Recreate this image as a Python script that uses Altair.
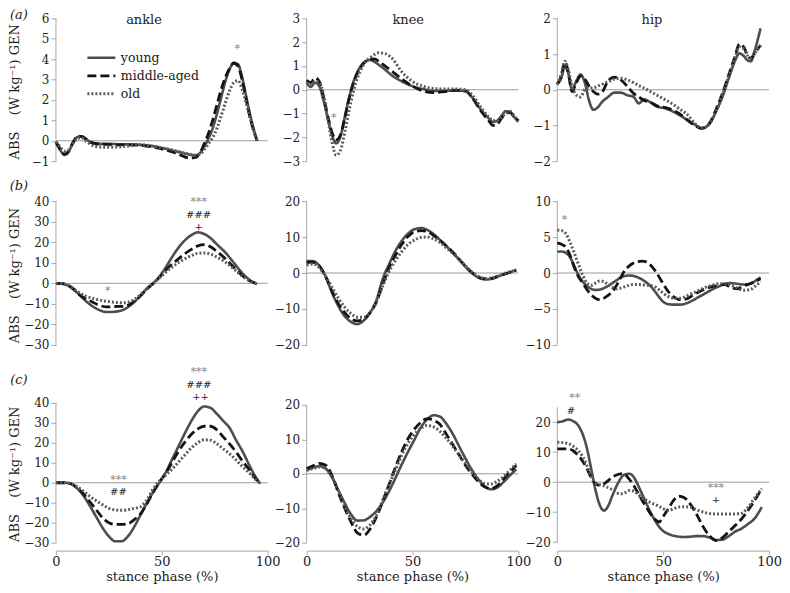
import altair as alt
import pandas as pd

# ---------------- data ----------------
SERIES = ["young", "middle-aged", "old"]
JOINTS = ["ankle", "knee", "hip"]
ROW_LABELS = ["(a)", "(b)", "(c)"]
Y_TITLE = "ABS\u00a0\u00a0\u00a0\u00a0(W kg\u207b\u00b9) GEN"
X_TITLE = "stance phase (%)"
X_TICKS = [0, 50, 100]

# (a) ankle
ankle_a_x = [0, 2, 4, 6, 8, 10, 12, 14, 16, 18, 20, 25, 30, 35, 40, 45, 50, 55, 60, 63, 66, 68, 70, 72, 74, 76, 78, 80, 82, 84, 86, 88, 90, 92, 94, 95]
ankle_a_young = [-0.1, -0.45, -0.7, -0.55, -0.1, 0.18, 0.22, 0.1, -0.05, -0.15, -0.15, -0.15, -0.17, -0.18, -0.2, -0.25, -0.35, -0.48, -0.6, -0.68, -0.72, -0.6, -0.3, 0.1, 0.6, 1.3, 2.1, 2.9, 3.5, 3.82, 3.75, 3.1, 2.1, 1.15, 0.35, 0.0]
ankle_a_middle = [-0.05, -0.4, -0.65, -0.5, -0.1, 0.2, 0.22, 0.1, -0.05, -0.12, -0.15, -0.18, -0.2, -0.2, -0.22, -0.3, -0.4, -0.55, -0.75, -0.85, -0.82, -0.6, -0.15, 0.35, 1.0, 1.75, 2.5, 3.1, 3.55, 3.8, 3.65, 2.95, 1.95, 1.0, 0.3, 0.0]
ankle_a_old = [-0.05, -0.3, -0.5, -0.45, -0.15, 0.1, 0.15, 0.0, -0.15, -0.25, -0.3, -0.32, -0.3, -0.25, -0.2, -0.25, -0.35, -0.45, -0.58, -0.65, -0.7, -0.65, -0.45, -0.15, 0.15, 0.6, 1.2, 1.85, 2.45, 2.85, 2.95, 2.5, 1.8, 1.0, 0.3, 0.0]

# (a) knee
knee_a_x = [0, 2, 4, 6, 8, 10, 12, 14, 16, 18, 20, 22, 24, 26, 28, 30, 32, 34, 37, 40, 45, 50, 55, 60, 65, 70, 75, 78, 82, 86, 88, 90, 92, 94, 96, 98, 100]
knee_a_young = [0.3, 0.12, 0.3, 0.15, -0.45, -1.2, -1.9, -2.25, -1.95, -1.15, -0.35, 0.3, 0.75, 1.05, 1.2, 1.25, 1.18, 1.05, 0.85, 0.62, 0.35, 0.15, 0.03, -0.05, -0.05, -0.03, -0.06, -0.3, -0.8, -1.2, -1.35, -1.3, -1.1, -0.9, -0.95, -1.15, -1.35]
knee_a_middle = [0.4, 0.3, 0.5, 0.35, -0.3, -1.1, -1.8, -2.1, -1.9, -1.2, -0.4, 0.25, 0.7, 1.0, 1.2, 1.28, 1.3, 1.2, 1.0, 0.8, 0.45, 0.15, -0.05, -0.12, -0.08, -0.02, -0.05, -0.3, -0.85, -1.3, -1.5, -1.45, -1.2, -1.0, -0.95, -1.1, -1.3]
knee_a_old = [0.3, 0.2, 0.35, 0.3, -0.2, -1.2, -2.2, -2.75, -2.55, -1.8, -0.9, -0.1, 0.5, 0.9, 1.2, 1.35, 1.48, 1.55, 1.52, 1.35, 0.75, 0.35, 0.15, 0.05, 0.03, 0.03, 0.0, -0.2, -0.7, -1.15, -1.3, -1.3, -1.15, -1.0, -0.9, -1.1, -1.3]

# (a) hip
hip_a_x = [0, 2, 3.5, 5, 7, 9, 11, 13, 15, 17, 19, 21, 24, 27, 30, 33, 36, 38.5, 41, 44, 47, 51, 55, 58, 61.5, 65, 68, 70, 72.5, 75, 78, 80, 82, 84, 86, 88, 90, 91.5, 93, 96]
hip_a_young = [0.17, 0.35, 0.65, 0.5, 0.0, 0.25, 0.43, 0.2, -0.3, -0.56, -0.5, -0.35, -0.2, -0.08, -0.08, -0.15, -0.2, -0.38, -0.27, -0.35, -0.47, -0.52, -0.62, -0.72, -0.85, -0.98, -1.08, -1.05, -0.9, -0.6, -0.2, 0.15, 0.5, 0.82, 1.02, 0.95, 0.82, 0.8, 1.05, 1.72]
hip_a_middle = [0.15, 0.4, 0.78, 0.55, -0.05, 0.2, 0.38, 0.3, 0.1, -0.05, -0.12, -0.08, 0.25, 0.35, 0.28, 0.1, -0.1, -0.2, -0.3, -0.35, -0.45, -0.5, -0.58, -0.68, -0.85, -1.0, -1.08, -1.05, -0.88, -0.55, -0.1, 0.25, 0.6, 0.95, 1.28, 1.2, 0.95, 0.88, 1.0, 1.25]
hip_a_old = [0.15, 0.45, 0.8, 0.6, 0.1, -0.15, -0.2, 0.0, 0.05, 0.05, 0.1, 0.15, 0.22, 0.3, 0.32, 0.28, 0.2, 0.12, 0.05, -0.05, -0.15, -0.28, -0.42, -0.55, -0.7, -0.95, -1.07, -1.05, -0.9, -0.6, -0.15, 0.2, 0.55, 0.9, 1.2, 1.15, 0.95, 0.9, 1.0, 1.25]

# (b) ankle
ankle_b_x = [0, 3, 5, 8, 11, 14, 17, 20, 24, 28, 32, 36, 40, 43, 46, 49, 52, 55, 58, 61, 64, 67, 70, 73, 76, 80, 84, 88, 92, 95]
ankle_b_young = [0, -0.2, -0.8, -2.8, -5.5, -8.5, -11, -12.8, -14, -13.8, -12.8, -10, -6, -2.5, 0, 3.5, 8, 13, 17.5, 21, 23.5, 24.8, 24, 22, 19, 15, 10, 5, 1.2, -0.3]
ankle_b_middle = [0, -0.2, -0.7, -2.5, -5.5, -7.5, -9, -10.5, -11.5, -11.3, -11.2, -9.5, -6, -2.8, 0, 3, 6.5, 9.5, 12, 14.5, 16.5, 18.2, 18.8, 17.8, 15.5, 12, 7.8, 3.8, 1, -0.3]
ankle_b_old = [0, -0.2, -0.7, -2.5, -4.5, -6.2, -7.2, -8, -8.8, -9.3, -9.5, -8.5, -5.5, -2.5, 0, 2.8, 5.5, 8, 10.2, 12, 13.5, 14.6, 14.8, 14.2, 12.8, 10.3, 7, 3.5, 1, -0.3]

# (b) knee
knee_b_x = [0, 3, 6, 9, 12, 15, 18, 21, 24, 27, 30, 33, 36, 39, 42, 45, 48, 51, 54, 57, 60, 63, 66, 70, 74, 78, 82, 85, 88, 91, 94, 97, 99]
knee_b_young = [3.3, 3.3, 2, -1, -5.5, -9.2, -12, -13.6, -14.2, -13.2, -11, -7.5, -1.5, 2.5, 6.2, 9, 11, 12.2, 12.5, 12, 10.8, 9.2, 7.5, 5, 2.4, 0, -1.5, -1.8, -1.5, -0.8, -0.2, 0.4, 0.8]
knee_b_middle = [3, 3, 2, -1, -5, -8.5, -11, -12.7, -13.3, -12.8, -11, -8, -3, 1.5, 5, 8, 10.2, 11.5, 11.8, 11.5, 10.5, 9, 7.5, 5.2, 2.6, 0.2, -1.3, -1.6, -1.4, -0.8, -0.2, 0.4, 0.8]
knee_b_old = [2.3, 2.5, 1.5, -1, -4, -7, -9.5, -11.3, -12.3, -12.3, -11, -8, -3.5, 0.5, 3.5, 6, 8, 9.2, 9.9, 10, 9.5, 8.5, 7, 5, 2.6, 0.3, -1.2, -1.5, -1.3, -0.7, 0, 0.5, 0.9]

# (b) hip
hip_b_x = [0, 2, 4, 6, 8, 10, 12, 14, 16, 18, 20, 22, 24, 26, 28, 30, 32, 34, 36, 38, 40, 42, 44, 46, 48, 50, 52, 55, 58, 61, 64, 67, 70, 73, 76, 79, 82, 85, 88, 91, 94, 96]
hip_b_young = [2.95, 3.0, 2.8, 2.2, 1.0, -0.3, -1.2, -1.8, -2.2, -2.35, -2.3, -2.1, -1.8, -1.4, -1.0, -0.6, -0.4, -0.35, -0.4, -0.6, -0.9, -1.3, -1.8, -2.5, -3.3, -4.0, -4.3, -4.4, -4.4, -4.2, -3.8, -3.3, -2.8, -2.3, -1.9, -1.5, -1.4, -1.5, -1.6, -1.5, -1.0, -0.6]
hip_b_middle = [4.2, 4.0, 3.6, 2.5, 0.8, -0.5, -1.4, -2.3, -3.0, -3.5, -3.7, -3.5, -3.1, -2.6, -1.7, -0.6, 0.4, 1.0, 1.4, 1.6, 1.65, 1.55, 1.1, 0.4, -0.5, -1.5, -2.4, -3.3, -3.7, -3.6, -3.1, -2.6, -2.2, -1.9, -1.7, -1.6, -2.0, -2.2, -1.8, -1.5, -1.1, -0.8]
hip_b_old = [5.95, 5.9, 5.5, 4.3, 2.8, 1.2, -0.3, -1.4, -1.7, -1.4, -1.1, -1.2, -1.6, -2.0, -2.2, -2.1, -1.9, -1.7, -1.6, -1.6, -1.65, -1.7, -1.75, -1.9, -2.3, -2.8, -3.2, -3.5, -3.5, -3.2, -2.8, -2.4, -2.0, -1.7, -1.5, -1.5, -1.7, -2.1, -2.4, -2.3, -1.7, -1.2]

# (c) ankle
ankle_c_x = [0, 4, 7, 10, 13, 16, 19, 22, 25, 28, 31, 34, 37, 40, 43, 46, 49, 52, 55, 58, 61, 64, 67, 70, 73, 76, 79, 82, 85, 88, 91, 94, 96.5]
ankle_c_young = [0, 0, -0.5, -2.8, -6.5, -11.5, -17, -22.5, -26.8, -29.3, -29.3, -26.8, -22, -16, -10, -4.5, 0.3, 5.5, 12, 18.5, 25, 31, 35.8, 38.2, 37.5, 34.5, 31, 27.5, 21.5, 16, 9.5, 3.5, -0.5]
ankle_c_middle = [0, 0, -0.5, -2.5, -5.5, -9.5, -13.5, -17.5, -20, -20.8, -20.8, -20.5, -18.5, -15.5, -10.5, -4.5, 0.5, 5, 10.5, 16, 20.5, 24.3, 27, 28.3, 28.3, 26.5, 23, 19.5, 15.5, 11, 7, 2.5, -0.3]
ankle_c_old = [0, 0, -0.5, -2, -4.2, -6.8, -9, -11, -12.8, -13.6, -13.8, -13.5, -12.8, -12, -8.5, -3, 1, 4, 7, 10.5, 14, 17.5, 20, 21.5, 21.3, 19.5, 17, 14.5, 11.5, 8.2, 5.3, 2, -0.3]

# (c) knee
knee_c_x = [0, 3, 6, 9, 12, 15, 18, 21, 24, 27, 30, 33, 36, 39, 42, 45, 48, 51, 54, 57, 60, 63, 66, 69, 72, 75, 78, 81, 84, 87, 90, 93, 96, 99]
knee_c_young = [1, 1.8, 2.2, 1.5, -1, -4.8, -8.5, -11.8, -13.6, -13.5, -12.5, -10.8, -8.3, -5, -1.2, 2.8, 6.5, 10, 13.5, 15.8, 17, 16.6, 14.5, 11.6, 8, 4.5, 1.2, -1.5, -3.5, -4.5, -4, -2.4, -0.5, 1.3]
knee_c_middle = [1.5, 2.3, 3, 2.5, -0.5, -5.5, -10, -14, -17.2, -17.8, -16, -12.5, -8, -3, 2, 6.5, 10.3, 13, 15, 16, 15.5, 14.3, 11.5, 8.5, 5.5, 2.5, 0, -2.2, -3.8, -4.3, -3.5, -1.5, 0.5, 2.4]
knee_c_old = [1, 1.5, 2, 1.5, -1, -5, -9.5, -13, -15.3, -16, -14.8, -12, -7.5, -3, 1.2, 5.5, 9, 11.5, 13.2, 14, 13.6, 12.3, 10.3, 8, 5.5, 3, 0.5, -1.5, -2.8, -3, -2.2, -0.8, 1, 2.9]

# (c) hip
hip_c_x = [0, 2.5, 5, 7.5, 10, 12, 14, 16, 18, 20, 22, 24, 26, 28, 30, 32, 34, 36, 38, 40, 42, 44, 46, 48, 50, 52.5, 55, 57.5, 60, 63, 66, 69, 72, 75, 78, 81, 84, 87, 90, 93, 96.6]
hip_c_young = [20, 20.3, 20.9, 20.4, 18.8, 16, 11.3, 4.5, -2.5, -7.5, -9.5, -8, -4.5, -1.3, 1.3, 2.6, 2.8, 1.8, -0.8, -3.9, -7, -10, -12.6, -14.8, -16.3, -17.3, -17.9, -18.2, -18.3, -18.2, -18, -18, -18.5, -19.3, -19.2, -18, -16.5, -15.5, -14, -12.3, -8.3]
hip_c_middle = [11.1, 11.1, 11.1, 10.5, 8.8, 7, 4.5, 1.5, -0.5, -1.1, -0.6, 0.5, 1.7, 2.4, 2.8, 2.5, 1, -1, -3.5, -6, -8.3, -10.5, -12.3, -13.3, -11.5, -8.8, -6, -4.7, -5.2, -7.5, -11, -15, -18, -19.5, -18.5, -16.5, -14.5, -12.3, -9.5, -6.3, -2.2]
hip_c_old = [13.3, 13.2, 12.9, 12, 10.5, 8.5, 5.5, 2, -0.2, -0.8, -1.2, -1.8, -2.5, -3.5, -3.9, -3.5, -2.8, -3, -4, -5.2, -6, -6.8, -7.4, -8.1, -8.8, -9.4, -8.8, -8.3, -8.2, -8.4, -9.3, -10, -10.5, -10.6, -10.6, -10.6, -10.6, -10.4, -8.5, -5.5, -2.2]

# significance marks: (x, y, text)
ankle_a_marks = [(85.6, 4.6, "*")]
knee_a_marks = [(12.8, -1.1, "*")]
ankle_b_marks = [(24.5, -3.0, "*"), (67.4, 40.3, "***"), (67.4, 33.3, "###"), (67.4, 27.4, "+")]
hip_b_marks = [(3.4, 7.7, "*")]
ankle_c_marks = [(29.5, 2.5, "***"), (29.5, -4.7, "##"), (67.5, 56.3, "***"), (67.5, 49.0, "###"), (68.3, 43.1, "++")]
hip_c_marks = [(8.2, 28.6, "**"), (6.4, 23.9, "#"), (74.9, -1.2, "***"), (74.9, -5.8, "+")]

# joint headings (x, y) and row labels (x, y)
heading_pos = [(41.6, 5.9), (48.0, 2.93), (44.7, 1.95)]
row_label_pos = [(-17.5, 6.17), (-17.5, 47.3), (-17.5, 51.5)]

# ---------------- style ----------------
FONT = "DejaVu Serif"
TEXT = "#222222"
AXIS_GREY = "#a9a9a9"
ZERO_GREY = "#9a9a9a"
STAR_GREY = "#858585"
LINE_COLORS = ["#4d4d4d", "#141414", "#5c5c5c"]
LINE_DASHES = [[1, 0], [9, 4], [2, 2]]
LINE_WIDTHS = [2.6, 3.0, 2.6]
PANEL_W = 212
ROW_H = [143, 144, 158]

PANELS = [
    dict(x=ankle_a_x, ys=[ankle_a_young, ankle_a_middle, ankle_a_old], view=[-1, 6], axis=[-1, 6],
         ticks=[-1, 0, 1, 2, 3, 4, 5, 6], marks=ankle_a_marks),
    dict(x=knee_a_x, ys=[knee_a_young, knee_a_middle, knee_a_old], view=[-3, 3], axis=[-3, 3],
         ticks=[-3, -2, -1, 0, 1, 2, 3], marks=knee_a_marks),
    dict(x=hip_a_x, ys=[hip_a_young, hip_a_middle, hip_a_old], view=[-2, 2], axis=[-2, 2],
         ticks=[-2, -1, 0, 1, 2], marks=[]),
    dict(x=ankle_b_x, ys=[ankle_b_young, ankle_b_middle, ankle_b_old], view=[-30, 40], axis=[-30, 40],
         ticks=[-30, -20, -10, 0, 10, 20, 30, 40], marks=ankle_b_marks),
    dict(x=knee_b_x, ys=[knee_b_young, knee_b_middle, knee_b_old], view=[-20, 20], axis=[-20, 20],
         ticks=[-20, -10, 0, 10, 20], marks=[]),
    dict(x=hip_b_x, ys=[hip_b_young, hip_b_middle, hip_b_old], view=[-10, 10], axis=[-10, 10],
         ticks=[-10, -5, 0, 5, 10], marks=hip_b_marks),
    dict(x=ankle_c_x, ys=[ankle_c_young, ankle_c_middle, ankle_c_old], view=[-30, 49], axis=[-30, 40],
         ticks=[-30, -20, -10, 0, 10, 20, 30, 40], marks=ankle_c_marks),
    dict(x=knee_c_x, ys=[knee_c_young, knee_c_middle, knee_c_old], view=[-20, 25.8], axis=[-20, 20],
         ticks=[-20, -10, 0, 10, 20], marks=[]),
    dict(x=hip_c_x, ys=[hip_c_young, hip_c_middle, hip_c_old], view=[-20.2, 32.47], axis=[-20, 25],
         ticks=[-20, -10, 0, 10, 20], marks=hip_c_marks),
]

Y_TITLE_Y = [73, 74, 89]


def make_panel(i, p):
    row, col = divmod(i, 3)
    xscale = alt.Scale(domain=[0, 100], nice=False, zero=False)
    yscale = alt.Scale(domain=p["view"], nice=False, zero=False)

    if row == 2:
        x_axis = alt.Axis(values=X_TICKS, offset=8, grid=False, domainColor=AXIS_GREY,
                          tickColor=AXIS_GREY, tickSize=4, labelFont=FONT, labelFontSize=13,
                          labelColor=TEXT, labelFlush=False, labelPadding=1, title=X_TITLE,
                          titleFont=FONT, titleFontSize=13, titleFontWeight="normal",
                          titleColor=TEXT, titlePadding=2)
    else:
        x_axis = None

    y_kwargs = dict(values=p["ticks"], domain=False, grid=False, tickColor=AXIS_GREY, tickSize=5,
                    labelFont=FONT, labelFontSize=12, labelColor=TEXT, labelPadding=2)
    if col == 0:
        y_kwargs.update(title=Y_TITLE, titleFont=FONT, titleFontSize=13, titleFontWeight="normal",
                        titleColor=TEXT, titleX=-34, titleY=Y_TITLE_Y[row], titleBaseline="bottom",
                        titleAngle=270, titleAlign="center")
    else:
        y_kwargs.update(title=None)
    y_axis = alt.Axis(**y_kwargs)

    X = alt.X("x:Q", scale=xscale, axis=x_axis)
    Y = alt.Y("y:Q", scale=yscale, axis=y_axis)

    lo, hi = p["axis"]
    axis_line = alt.Chart(pd.DataFrame({"x": [0], "y": [lo], "y2": [hi]})).mark_rule(
        color=AXIS_GREY, strokeWidth=1).encode(x=X, y=Y, y2="y2:Q")
    zero_line = alt.Chart(pd.DataFrame({"x": [0], "x2": [100], "y": [0]})).mark_rule(
        color=ZERO_GREY, strokeWidth=1).encode(x=X, x2="x2:Q", y=Y)

    rows = []
    for s, vals in zip(SERIES, p["ys"]):
        for xv, yv in zip(p["x"], vals):
            rows.append({"x": xv, "y": yv, "series": s})
    df = pd.DataFrame(rows)

    if i == 0:
        leg = alt.Legend(orient="none", legendX=34, legendY=28, title=None,
                         symbolType="M-1.4,0H1.4", symbolSize=400, symbolStrokeWidth=2.6,
                         labelFont=FONT, labelFontSize=12.5, labelColor=TEXT, rowPadding=0,
                         padding=0, labelOffset=8)
    else:
        leg = None

    lines = alt.Chart(df).mark_line(interpolate="monotone").encode(
        x=X, y=Y,
        color=alt.Color("series:N", scale=alt.Scale(domain=SERIES, range=LINE_COLORS), legend=leg, sort=SERIES),
        strokeDash=alt.StrokeDash("series:N", scale=alt.Scale(domain=SERIES, range=LINE_DASHES), legend=leg, sort=SERIES),
        strokeWidth=alt.StrokeWidth("series:N", scale=alt.Scale(domain=SERIES, range=LINE_WIDTHS), legend=None),
    )

    layers = [axis_line, zero_line, lines]

    marks = p["marks"]
    stars = [m for m in marks if m[2].startswith("*")]
    others = [m for m in marks if not m[2].startswith("*")]
    if stars:
        sdf = pd.DataFrame(stars, columns=["x", "y", "t"])
        layers.append(alt.Chart(sdf).mark_text(font=FONT, fontSize=11, color=STAR_GREY, dy=2).encode(
            x=X, y=Y, text="t:N"))
    if others:
        odf = pd.DataFrame(others, columns=["x", "y", "t"])
        layers.append(alt.Chart(odf).mark_text(font=FONT, fontSize=10, color=TEXT).encode(
            x=X, y=Y, text="t:N"))

    if row == 0:
        hx, hy = heading_pos[col]
        hdf = pd.DataFrame({"x": [hx], "y": [hy], "t": [JOINTS[col]]})
        layers.append(alt.Chart(hdf).mark_text(font=FONT, fontSize=13, color=TEXT).encode(
            x=X, y=Y, text="t:N"))

    if col == 0:
        rx, ry = row_label_pos[row]
        rdf = pd.DataFrame({"x": [rx], "y": [ry], "t": [ROW_LABELS[row]]})
        layers.append(alt.Chart(rdf).mark_text(font=FONT, fontSize=13, fontStyle="italic",
                                               color=TEXT).encode(x=X, y=Y, text="t:N"))

    return alt.layer(*layers).properties(width=PANEL_W, height=ROW_H[row])


charts = [make_panel(i, p) for i, p in enumerate(PANELS)]

chart = alt.concat(*charts, columns=3, spacing={"row": 40, "column": 39}, bounds="flush").resolve_scale(
    color="independent", strokeDash="independent", strokeWidth="independent"
).resolve_legend(
    color="independent", strokeDash="independent", strokeWidth="independent"
).properties(padding=0).configure_view(stroke=None)

chart.save("out.html", embed_options={"renderer": "svg", "actions": False})
